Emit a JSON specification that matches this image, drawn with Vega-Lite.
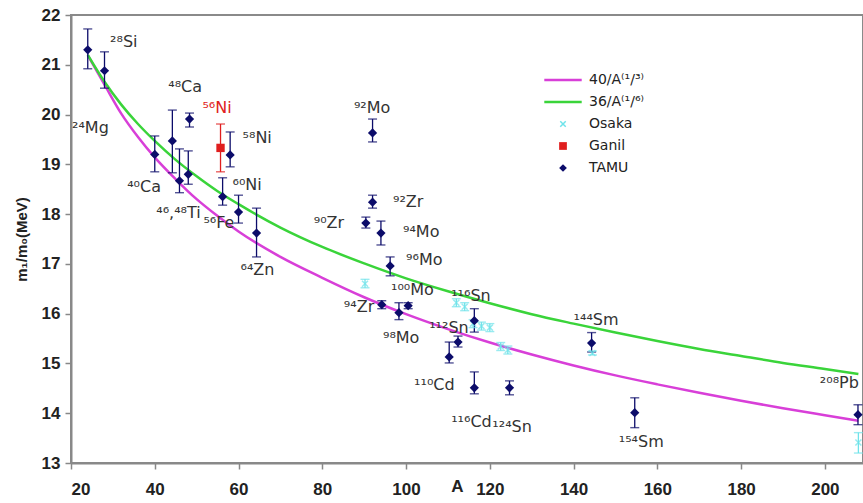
{
  "$schema": "https://vega.github.io/schema/vega-lite/v6.json",
  "width": 792,
  "height": 448,
  "autosize": {"type": "none"},
  "padding": {"left": 71, "top": 15, "right": 0, "bottom": 40},
  "background": "white",
  "config": {
    "view": {"stroke": "#8a8a8a", "strokeWidth": 2},
    "style": {"cell": {"stroke": "#8a8a8a", "strokeWidth": 2}},
    "axis": {
      "domainColor": "#888888", "domainWidth": 2,
      "tickColor": "#888888", "tickWidth": 1.5, "tickSize": 6,
      "labelFont": "Liberation Sans", "labelFontWeight": "bold", "labelFontSize": 17, "labelColor": "#222222",
      "titleFont": "Liberation Sans", "titleFontWeight": "bold", "titleColor": "#222222",
      "grid": false
    }
  },
  "datasets": {
    "curves": [
      {"A": 24, "y": 21.19, "series": "40/A⁽¹/³⁾"}, {"A": 28, "y": 20.6, "series": "40/A⁽¹/³⁾"}, {"A": 32, "y": 20.02, "series": "40/A⁽¹/³⁾"},
      {"A": 36, "y": 19.55, "series": "40/A⁽¹/³⁾"}, {"A": 40, "y": 19.14, "series": "40/A⁽¹/³⁾"}, {"A": 45, "y": 18.7, "series": "40/A⁽¹/³⁾"},
      {"A": 50, "y": 18.3, "series": "40/A⁽¹/³⁾"}, {"A": 55, "y": 17.96, "series": "40/A⁽¹/³⁾"}, {"A": 60, "y": 17.65, "series": "40/A⁽¹/³⁾"},
      {"A": 70, "y": 17.14, "series": "40/A⁽¹/³⁾"}, {"A": 80, "y": 16.72, "series": "40/A⁽¹/³⁾"}, {"A": 90, "y": 16.33, "series": "40/A⁽¹/³⁾"},
      {"A": 100, "y": 15.99, "series": "40/A⁽¹/³⁾"}, {"A": 110, "y": 15.69, "series": "40/A⁽¹/³⁾"}, {"A": 120, "y": 15.42, "series": "40/A⁽¹/³⁾"},
      {"A": 130, "y": 15.18, "series": "40/A⁽¹/³⁾"}, {"A": 140, "y": 14.96, "series": "40/A⁽¹/³⁾"}, {"A": 150, "y": 14.76, "series": "40/A⁽¹/³⁾"},
      {"A": 160, "y": 14.58, "series": "40/A⁽¹/³⁾"}, {"A": 170, "y": 14.41, "series": "40/A⁽¹/³⁾"}, {"A": 180, "y": 14.25, "series": "40/A⁽¹/³⁾"},
      {"A": 190, "y": 14.1, "series": "40/A⁽¹/³⁾"}, {"A": 200, "y": 13.96, "series": "40/A⁽¹/³⁾"}, {"A": 208, "y": 13.85, "series": "40/A⁽¹/³⁾"},
      {"A": 24, "y": 21.2, "series": "36/A⁽¹/⁶⁾"}, {"A": 28, "y": 20.66, "series": "36/A⁽¹/⁶⁾"}, {"A": 32, "y": 20.2, "series": "36/A⁽¹/⁶⁾"},
      {"A": 36, "y": 19.81, "series": "36/A⁽¹/⁶⁾"}, {"A": 40, "y": 19.47, "series": "36/A⁽¹/⁶⁾"}, {"A": 45, "y": 19.09, "series": "36/A⁽¹/⁶⁾"},
      {"A": 50, "y": 18.76, "series": "36/A⁽¹/⁶⁾"}, {"A": 55, "y": 18.46, "series": "36/A⁽¹/⁶⁾"}, {"A": 60, "y": 18.2, "series": "36/A⁽¹/⁶⁾"},
      {"A": 70, "y": 17.73, "series": "36/A⁽¹/⁶⁾"}, {"A": 80, "y": 17.34, "series": "36/A⁽¹/⁶⁾"}, {"A": 90, "y": 17.01, "series": "36/A⁽¹/⁶⁾"},
      {"A": 100, "y": 16.71, "series": "36/A⁽¹/⁶⁾"}, {"A": 110, "y": 16.45, "series": "36/A⁽¹/⁶⁾"}, {"A": 120, "y": 16.21, "series": "36/A⁽¹/⁶⁾"},
      {"A": 130, "y": 15.99, "series": "36/A⁽¹/⁶⁾"}, {"A": 140, "y": 15.8, "series": "36/A⁽¹/⁶⁾"}, {"A": 150, "y": 15.62, "series": "36/A⁽¹/⁶⁾"},
      {"A": 160, "y": 15.45, "series": "36/A⁽¹/⁶⁾"}, {"A": 170, "y": 15.29, "series": "36/A⁽¹/⁶⁾"}, {"A": 180, "y": 15.15, "series": "36/A⁽¹/⁶⁾"},
      {"A": 190, "y": 15.01, "series": "36/A⁽¹/⁶⁾"}, {"A": 200, "y": 14.89, "series": "36/A⁽¹/⁶⁾"}, {"A": 208, "y": 14.79, "series": "36/A⁽¹/⁶⁾"}
    ],
    "points": [
      {"A": 24, "y": 21.3, "lo": 20.92, "hi": 21.72, "series": "TAMU"},
      {"A": 28, "y": 20.88, "lo": 20.53, "hi": 21.26, "series": "TAMU"},
      {"A": 40, "y": 19.2, "lo": 18.85, "hi": 19.57, "series": "TAMU"},
      {"A": 44.2, "y": 19.47, "lo": 18.83, "hi": 20.09, "series": "TAMU"},
      {"A": 48.3, "y": 19.91, "lo": 19.75, "hi": 20.03, "series": "TAMU"},
      {"A": 45.9, "y": 18.67, "lo": 18.43, "hi": 19.31, "series": "TAMU"},
      {"A": 48, "y": 18.8, "lo": 18.6, "hi": 19.27, "series": "TAMU"},
      {"A": 56.2, "y": 18.35, "lo": 18.18, "hi": 18.73, "series": "TAMU"},
      {"A": 58, "y": 19.19, "lo": 18.95, "hi": 19.65, "series": "TAMU"},
      {"A": 60, "y": 18.04, "lo": 17.82, "hi": 18.38, "series": "TAMU"},
      {"A": 64.3, "y": 17.62, "lo": 17.14, "hi": 18.12, "series": "TAMU"},
      {"A": 90.4, "y": 17.82, "lo": 17.72, "hi": 17.94, "series": "TAMU"},
      {"A": 92, "y": 18.24, "lo": 18.12, "hi": 18.38, "series": "TAMU"},
      {"A": 92, "y": 19.63, "lo": 19.45, "hi": 19.91, "series": "TAMU"},
      {"A": 94, "y": 17.62, "lo": 17.38, "hi": 17.86, "series": "TAMU"},
      {"A": 96.2, "y": 16.96, "lo": 16.76, "hi": 17.14, "series": "TAMU"},
      {"A": 94.2, "y": 16.18, "lo": 16.1, "hi": 16.26, "series": "TAMU"},
      {"A": 98.3, "y": 16.02, "lo": 15.88, "hi": 16.22, "series": "TAMU"},
      {"A": 100.5, "y": 16.16, "lo": 16.1, "hi": 16.22, "series": "TAMU"},
      {"A": 110.3, "y": 15.13, "lo": 15.01, "hi": 15.43, "series": "TAMU"},
      {"A": 112.4, "y": 15.43, "lo": 15.33, "hi": 15.55, "series": "TAMU"},
      {"A": 116.3, "y": 15.86, "lo": 15.63, "hi": 16.1, "series": "TAMU"},
      {"A": 116.3, "y": 14.51, "lo": 14.39, "hi": 14.83, "series": "TAMU"},
      {"A": 124.7, "y": 14.51, "lo": 14.37, "hi": 14.65, "series": "TAMU"},
      {"A": 144.3, "y": 15.41, "lo": 15.23, "hi": 15.62, "series": "TAMU"},
      {"A": 154.6, "y": 14.01, "lo": 13.71, "hi": 14.31, "series": "TAMU"},
      {"A": 207.9, "y": 13.97, "lo": 13.77, "hi": 14.17, "series": "TAMU"},
      {"A": 55.7, "y": 19.33, "lo": 18.85, "hi": 19.81, "series": "Ganil"},
      {"A": 90.2, "y": 16.6, "lo": 16.52, "hi": 16.69, "series": "Osaka"},
      {"A": 112, "y": 16.22, "lo": 16.14, "hi": 16.3, "series": "Osaka"},
      {"A": 114, "y": 16.14, "lo": 16.06, "hi": 16.22, "series": "Osaka"},
      {"A": 116, "y": 15.8, "lo": 15.72, "hi": 15.88, "series": "Osaka"},
      {"A": 118, "y": 15.75, "lo": 15.67, "hi": 15.83, "series": "Osaka"},
      {"A": 120, "y": 15.72, "lo": 15.64, "hi": 15.8, "series": "Osaka"},
      {"A": 122.6, "y": 15.34, "lo": 15.26, "hi": 15.42, "series": "Osaka"},
      {"A": 124.3, "y": 15.27, "lo": 15.19, "hi": 15.35, "series": "Osaka"},
      {"A": 144.5, "y": 15.21, "lo": 15.17, "hi": 15.25, "series": "Osaka"},
      {"A": 208, "y": 13.41, "lo": 13.2, "hi": 13.61, "series": "Osaka"}
    ],
    "labels": [
      {"A": 29.34, "y": 21.46, "text": "²⁸Si", "series": "TAMU"},
      {"A": 20.24, "y": 19.73, "text": "²⁴Mg", "series": "TAMU"},
      {"A": 43.23, "y": 20.55, "text": "⁴⁸Ca", "series": "TAMU"},
      {"A": 51.38, "y": 20.13, "text": "⁵⁶Ni", "series": "Ganil"},
      {"A": 60.96, "y": 19.53, "text": "⁵⁸Ni", "series": "TAMU"},
      {"A": 33.41, "y": 18.55, "text": "⁴⁰Ca", "series": "TAMU"},
      {"A": 58.56, "y": 18.59, "text": "⁶⁰Ni", "series": "TAMU"},
      {"A": 40.36, "y": 18.02, "text": "⁴⁶,⁴⁸Ti", "series": "TAMU"},
      {"A": 51.62, "y": 17.82, "text": "⁵⁶Fe", "series": "TAMU"},
      {"A": 60.48, "y": 16.88, "text": "⁶⁴Zn", "series": "TAMU"},
      {"A": 87.54, "y": 20.13, "text": "⁹²Mo", "series": "TAMU"},
      {"A": 96.89, "y": 18.24, "text": "⁹²Zr", "series": "TAMU"},
      {"A": 77.96, "y": 17.82, "text": "⁹⁰Zr", "series": "TAMU"},
      {"A": 99.28, "y": 17.64, "text": "⁹⁴Mo", "series": "TAMU"},
      {"A": 100.0, "y": 17.08, "text": "⁹⁶Mo", "series": "TAMU"},
      {"A": 96.41, "y": 16.48, "text": "¹⁰⁰Mo", "series": "TAMU"},
      {"A": 85.15, "y": 16.14, "text": "⁹⁴Zr", "series": "TAMU"},
      {"A": 94.49, "y": 15.51, "text": "⁹⁸Mo", "series": "TAMU"},
      {"A": 110.78, "y": 16.36, "text": "¹¹⁶Sn", "series": "TAMU"},
      {"A": 105.51, "y": 15.71, "text": "¹¹²Sn", "series": "TAMU"},
      {"A": 101.92, "y": 14.57, "text": "¹¹⁰Cd", "series": "TAMU"},
      {"A": 110.78, "y": 13.83, "text": "¹¹⁶Cd", "series": "TAMU"},
      {"A": 120.6, "y": 13.73, "text": "¹²⁴Sn", "series": "TAMU"},
      {"A": 140.0, "y": 15.88, "text": "¹⁴⁴Sm", "series": "TAMU"},
      {"A": 150.78, "y": 13.43, "text": "¹⁵⁴Sm", "series": "TAMU"},
      {"A": 198.8, "y": 14.61, "text": "²⁰⁸Pb", "series": "TAMU"}
    ]
  },
  "encoding": {
    "x": {
      "field": "A", "type": "quantitative",
      "scale": {"domain": [20, 209.1], "nice": false, "zero": false},
      "axis": {"values": [20, 40, 60, 80, 100, 120, 140, 160, 180, 200], "labelPadding": 12, "title": "A", "titleFontSize": 17, "titleX": 386, "titleY": 28, "titleAlign": "center", "titleBaseline": "alphabetic"}
    }
  },
  "layer": [
    {
      "data": {"name": "curves"},
      "mark": {"type": "line", "strokeWidth": 2.5, "interpolate": "monotone", "clip": true},
      "encoding": {
        "y": {"field": "y", "type": "quantitative", "scale": {"domain": [13, 22], "nice": false, "zero": false},
              "axis": {"values": [13, 14, 15, 16, 17, 18, 19, 20, 21, 22], "labelPadding": 5, "title": "m₁/m₀(MeV)", "titleFontSize": 15, "titlePadding": 12}},
        "color": {"field": "series", "type": "nominal",
          "scale": {"domain": ["40/A⁽¹/³⁾", "36/A⁽¹/⁶⁾", "Osaka", "Ganil", "TAMU"], "range": ["#d83fd8", "#3ad43a", "#6fe3ea", "#e01e1e", "#0c0c6a"]},
          "legend": {
            "title": null, "orient": "none", "legendX": 485, "legendY": 58, "padding": 0,
            "labelFont": "DejaVu Sans", "labelFontSize": 14, "labelColor": "#222222", "labelOffset": 19,
            "rowPadding": 8, "symbolSize": 100,
            "encode": {
              "symbols": {
                "update": {
                  "shape": {"signal": "datum.value == 'Osaka' ? 'M-1,-1L1,1M-1,1L1,-1' : datum.value == 'Ganil' ? 'square' : datum.value == 'TAMU' ? 'diamond' : 'stroke'"},
                  "size": {"signal": "datum.value == 'Osaka' ? 30 : datum.value == 'Ganil' ? 60 : datum.value == 'TAMU' ? 60 : 1400"},
                  "fill": {"signal": "(datum.value == 'Ganil' || datum.value == 'TAMU') ? scale('color', datum.value) : 'transparent'"},
                  "stroke": {"signal": "scale('color', datum.value)"},
                  "strokeWidth": {"signal": "(datum.value == 'Ganil' || datum.value == 'TAMU') ? 0 : datum.value == 'Osaka' ? 1.5 : 2.5"},
                  "opacity": {"value": 1}
                }
              }
            }
          }
        }
      }
    },
    {
      "mark": {"type": "rule", "color": "#8a8a8a", "strokeWidth": 2},
      "encoding": {"y": {"datum": 22, "type": "quantitative"}}
    },
    {
      "data": {"name": "points"},
      "mark": {"type": "rule", "strokeWidth": 1.3},
      "encoding": {
        "y": {"field": "lo", "type": "quantitative"},
        "y2": {"field": "hi"},
        "color": {"field": "series", "type": "nominal"}
      }
    },
    {
      "data": {"name": "points"},
      "mark": {"type": "tick", "orient": "horizontal", "size": 9, "thickness": 1.4},
      "encoding": {
        "y": {"field": "lo", "type": "quantitative"},
        "color": {"field": "series", "type": "nominal"}
      }
    },
    {
      "data": {"name": "points"},
      "mark": {"type": "tick", "orient": "horizontal", "size": 9, "thickness": 1.4},
      "encoding": {
        "y": {"field": "hi", "type": "quantitative"},
        "color": {"field": "series", "type": "nominal"}
      }
    },
    {
      "data": {"name": "points"},
      "transform": [{"filter": "datum.series == 'Osaka'"}],
      "mark": {"type": "point", "filled": false, "shape": "M-1,-1L1,1M-1,1L1,-1", "size": 36, "strokeWidth": 1.5},
      "encoding": {
        "y": {"field": "y", "type": "quantitative"},
        "color": {"field": "series", "type": "nominal"}
      }
    },
    {
      "data": {"name": "points"},
      "transform": [{"filter": "datum.series != 'Osaka'"}],
      "mark": {"type": "point", "filled": true, "opacity": 1},
      "encoding": {
        "y": {"field": "y", "type": "quantitative"},
        "shape": {"field": "series", "type": "nominal", "legend": null, "scale": {"domain": ["Ganil", "TAMU"], "range": ["square", "diamond"]}},
        "size": {"field": "series", "type": "nominal", "legend": null, "scale": {"domain": ["Ganil", "TAMU"], "range": [70, 85]}},
        "color": {"field": "series", "type": "nominal"}
      }
    },
    {
      "data": {"name": "labels"},
      "mark": {"type": "text", "align": "left", "baseline": "middle", "font": "DejaVu Sans", "fontSize": 16},
      "encoding": {
        "y": {"field": "y", "type": "quantitative"},
        "text": {"field": "text"},
        "color": {"condition": {"test": "datum.series == 'Ganil'", "value": "#e02020"}, "value": "#333333"}
      }
    }
  ]
}
